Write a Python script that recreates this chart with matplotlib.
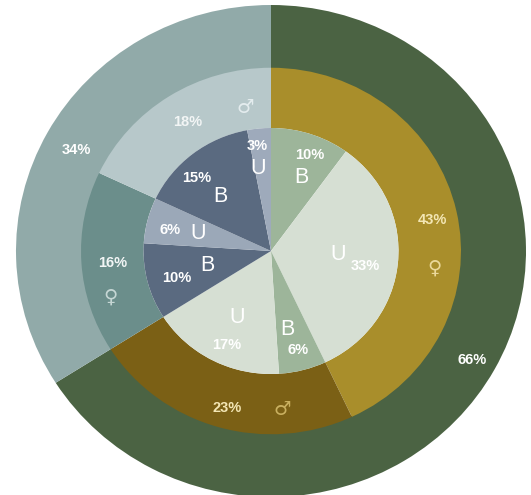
import matplotlib
matplotlib.use("Agg")
import matplotlib.pyplot as plt

# Outer ring: two top-level groups
outer_values = [66, 34]
outer_colors = ["#4b6343", "#91aaa9"]

# Middle ring: sex split within each group
middle_values = [43, 23, 16, 18]
middle_symbols = ["\u2640", "\u2642", "\u2640", "\u2642"]
middle_colors = ["#a98e2b", "#7b6015", "#6b8e8b", "#b7c8ca"]

# Inner pie: B / U split within each sex
inner_values = [10, 33, 6, 17, 10, 6, 15, 3]
inner_letters = ["B", "U", "B", "U", "B", "U", "B", "U"]
inner_colors = ["#9db59a", "#d6dfd3", "#9db59a", "#d6dfd3",
                "#5a6a80", "#9ba8b8", "#5a6a80", "#9eaabb"]

plt.rcParams["font.family"] = ["Liberation Sans", "DejaVu Sans"]

fig = plt.figure(figsize=(5.31, 4.95), dpi=100)
ax = fig.add_axes([0, 0, 1, 1])

common = dict(startangle=90, counterclock=False)
ax.pie(outer_values, radius=1.0, colors=outer_colors,
       wedgeprops=dict(width=0.26, edgecolor="none", linewidth=0), **common)
ax.pie(middle_values, radius=0.745, colors=middle_colors,
       wedgeprops=dict(width=0.245, edgecolor="none", linewidth=0), **common)
ax.pie(inner_values, radius=0.5, colors=inner_colors,
       wedgeprops=dict(edgecolor="none", linewidth=0), **common)

# Slightly wider than tall, as drawn
ax.set_aspect("auto")
ax.set_xlim(-271 / 255, 260 / 255)
ax.set_ylim(-244 / 246, 251 / 246)
ax.axis("off")

pct_kw = dict(ha="center", va="center", fontsize=10.5, fontweight="bold")
sym_kw = dict(ha="center", va="center", fontsize=14, family=["DejaVu Sans"])
let_kw = dict(ha="center", va="center", fontsize=15.5)

# Outer labels
outer_label_pos = [(0.788, -0.443), (-0.765, 0.41)]
for v, (x, y) in zip(outer_values, outer_label_pos):
    ax.text(x, y, f"{v}%", color="white", **pct_kw)

# Middle labels: percentage and sex symbol
middle_pct_pos = [(0.635, 0.126), (-0.173, -0.638), (-0.62, -0.049), (-0.325, 0.524)]
middle_sym_pos = [(0.643, -0.069), (0.043, -0.646), (-0.631, -0.187), (-0.102, 0.585)]
middle_pct_colors = ["#f3e6b4", "#f3e6b4", "#f2f5f5", "#f2f5f5"]
middle_sym_colors = ["#ead89a", "#c9b060", "#c5d6d4", "#e4ecee"]
for v, s, pp, sp, pc, sc in zip(middle_values, middle_symbols, middle_pct_pos,
                                middle_sym_pos, middle_pct_colors, middle_sym_colors):
    ax.text(pp[0], pp[1], f"{v}%", color=pc, **pct_kw)
    ax.text(sp[0], sp[1], s, color=sc, **sym_kw)

# Inner labels: letter and percentage
inner_let_pos = [(0.12, 0.3), (0.263, -0.016), (0.063, -0.321), (-0.133, -0.272),
                 (-0.251, -0.057), (-0.286, 0.073), (-0.2, 0.22), (-0.05, 0.335)]
inner_pct_pos = [(0.15, 0.39), (0.369, -0.061), (0.106, -0.402), (-0.173, -0.382),
                 (-0.369, -0.11), (-0.396, 0.085), (-0.29, 0.295), (-0.055, 0.425)]
for v, l, lp, pp in zip(inner_values, inner_letters, inner_let_pos, inner_pct_pos):
    ax.text(lp[0], lp[1], l, color="white", **let_kw)
    ax.text(pp[0], pp[1], f"{v}%", color="white", **pct_kw)

fig.savefig("out.png", dpi=100, facecolor="white")
